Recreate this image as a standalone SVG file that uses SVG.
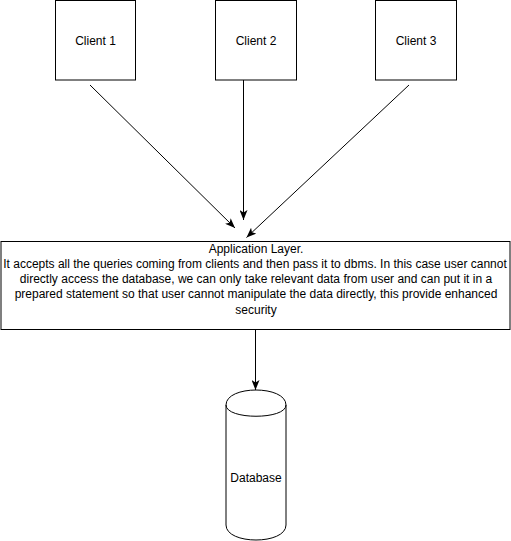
<svg xmlns="http://www.w3.org/2000/svg" width="511" height="541" viewBox="0 0 511 541">
<style>
.box{fill:#ffffff;stroke:#000000;stroke-width:1}
.lbl{font-family:"Liberation Sans",Arial,Helvetica,sans-serif;font-size:12px;fill:#000000;text-anchor:middle}
.edge{fill:none;stroke:#000000;stroke-width:1}
</style>
<defs>
<marker id="arr" viewBox="0 0 10 8" refX="10" refY="4" markerWidth="10" markerHeight="8" markerUnits="userSpaceOnUse" orient="auto">
<path d="M0,0 L10,4 L0,8 L2.5,4 Z" fill="#000000"/>
</marker>
</defs>
<rect width="511" height="541" fill="#ffffff"/>
<g id="client1">
<rect class="box" x="55.5" y="0.5" width="80" height="79.5"/>
<text class="lbl" x="95.5" y="44.5">Client 1</text>
</g>
<g id="client2">
<rect class="box" x="215.5" y="0.5" width="81" height="79.5"/>
<text class="lbl" x="256" y="44.5">Client 2</text>
</g>
<g id="client3">
<rect class="box" x="375.5" y="0.5" width="81" height="79.5"/>
<text class="lbl" x="416" y="44.5">Client 3</text>
</g>
<g id="app">
<rect class="box" x="1" y="241.5" width="509" height="88"/>
<text class="lbl" x="256" y="252.5">Application Layer.</text>
<text class="lbl" x="255" y="267.8">It accepts all the queries coming from clients and then pass it to dbms. In this case user cannot</text>
<text class="lbl" x="256" y="283.1">directly access the database, we can only take relevant data from user and can put it in a</text>
<text class="lbl" x="256" y="298.4">prepared statement so that user cannot manipulate the data directly, this provide enhanced</text>
<text class="lbl" x="256" y="313.7">security</text>
</g>
<g id="database">
<path class="box" d="M226,405 C226,385 286,385 286,405 L286,525 C286,545 226,545 226,525 Z"/>
<path class="edge" d="M226,405 C226,420 286,420 286,405"/>
<text class="lbl" x="256" y="481.5">Database</text>
</g>
<g id="connectors">
<line class="edge" x1="90" y1="85" x2="235" y2="228" marker-end="url(#arr)"/>
<line class="edge" x1="243.5" y1="80" x2="243.5" y2="220" marker-end="url(#arr)"/>
<line class="edge" x1="409" y1="85" x2="246.5" y2="237.5" marker-end="url(#arr)"/>
<line class="edge" x1="255.5" y1="329.5" x2="255.5" y2="390" marker-end="url(#arr)"/>
</g>
</svg>
